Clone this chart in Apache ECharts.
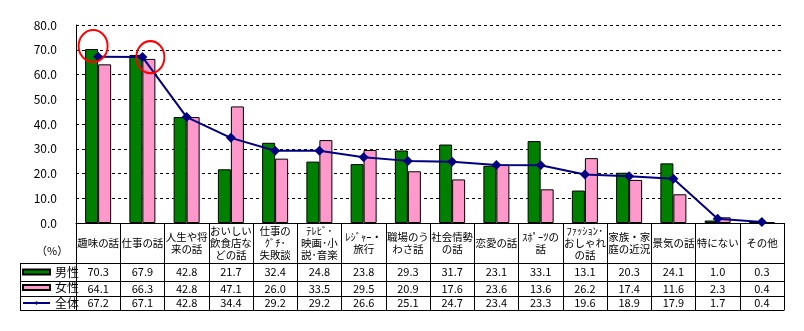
<!DOCTYPE html>
<html><head><meta charset="utf-8">
<script src="https://cdn.jsdelivr.net/npm/echarts@6/dist/echarts.min.js"></script>
<style>html,body{margin:0;padding:0;background:#fff}#c{width:804px;height:331px}</style>
</head><body><div id="c"></div>
<script>
const categories = ['趣味の話','仕事の話','人生や将\n来の話','おいしい\n飲食店な\nどの話','仕事の\nｸﾞﾁ･\n失敗談','ﾃﾚﾋﾞ･\n映画･小\n説･音楽','ﾚｼﾞｬｰ・\n旅行','職場のう\nわさ話','社会情勢\nの話','恋愛の話','ｽﾎﾟｰﾂの\n話','ﾌｧｯｼｮﾝ･\nおしゃれ\nの話','家族・家\n庭の近況','景気の話','特にない','その他'];
const male   = [70.3,67.9,42.8,21.7,32.4,24.8,23.8,29.3,31.7,23.1,33.1,13.1,20.3,24.1,1.0,0.3];
const female = [64.1,66.3,42.8,47.1,26.0,33.5,29.5,20.9,17.6,23.6,13.6,26.2,17.4,11.6,2.3,0.4];
const total  = [67.2,67.1,42.8,34.4,29.2,29.2,26.6,25.1,24.7,23.4,23.3,19.6,18.9,17.9,1.7,0.4];
const seriesNames = ['男性','女性','全体'];
const yTicks = {min:0, max:80, interval:10};
// annotation circles: [category index, value]
const highlightCircles = [[0,71.5],[1,67]];

const FONT = "'Noto Sans CJK JP', sans-serif";
const chart = echarts.init(document.getElementById('c'));
const baseX = {type:'category', data:categories, position:'bottom', gridIndex:0};
function rowAxis(offset, arr, margin){
  return Object.assign({}, baseX, {
    offset: offset,
    axisLine:{show:true, lineStyle:{color:'#000', width:1}},
    axisTick:{show:false},
    axisLabel:{show: !!arr, interval:0, margin:margin, verticalAlign:'middle', fontFamily:FONT, fontSize:11, color:'#000',
      formatter:(v,i)=> arr ? arr[i].toFixed(1) : ''},
    splitLine:{show:false}
  });
}
chart.setOption({
  animation:false,
  textStyle:{fontFamily:FONT},
  grid:{left:76, right:20, top:25, bottom:108, containLabel:false},
  legend:{
    orient:'vertical', left:22, top:266, padding:0, itemWidth:27, itemHeight:5, itemGap:3.5,
    textStyle:{fontSize:12, color:'#000', fontFamily:FONT, lineHeight:12, padding:0},
    data:[{name:'男性', icon:'rect'},{name:'女性', icon:'rect'},{name:'全体'}]
  },
  xAxis:[
    Object.assign({}, baseX, {
      axisLine:{show:true, lineStyle:{color:'#000', width:1}},
      axisTick:{show:true, length:87, alignWithLabel:false, lineStyle:{color:'#000'}},
      axisLabel:{interval:0, margin:20, verticalAlign:'middle', fontFamily:FONT, fontSize:10.5, lineHeight:12, color:'#000'},
      splitLine:{show:false}
    }),
    rowAxis(40, male, 9),
    rowAxis(58, female, 8),
    rowAxis(73, total, 7),
    rowAxis(87, null, 0)
  ],
  yAxis:{
    type:'value', min:yTicks.min, max:yTicks.max, interval:yTicks.interval,
    axisLine:{show:true, lineStyle:{color:'#000', width:1}},
    axisTick:{show:false},
    axisLabel:{margin:19, fontFamily:FONT, fontSize:12, color:'#000', formatter:v=>v.toFixed(1)},
    splitLine:{show:true, lineStyle:{color:'#000', width:1, type:[3,3]}}
  },
  series:[
    {name:seriesNames[0], type:'bar', data:male, barWidth:13, barGap:'0%',
      itemStyle:{color:'#008000', borderColor:'#000', borderWidth:1}},
    {name:seriesNames[1], type:'bar', data:female, barWidth:13, barGap:'0%',
      itemStyle:{color:'#FF99CC', borderColor:'#000', borderWidth:1}},
    {name:seriesNames[2], type:'line', data:total, symbol:'diamond', symbolSize:10,
      lineStyle:{color:'#000080', width:2}, itemStyle:{color:'#000080'},
      markPoint:{
        symbol:'circle', silent:true, label:{show:false},
        itemStyle:{color:'rgba(0,0,0,0)', borderColor:'#FF0000', borderWidth:2},
        data:[
          {coord:highlightCircles[0], symbolSize:[29,32], symbolOffset:[-5,0]},
          {coord:highlightCircles[1], symbolSize:[28,32], symbolOffset:[8,0]}
        ]
      }}
  ],
  graphic:[
    {type:'text', left:36, top:245, style:{text:'（%）', font:"11px 'Noto Sans CJK JP'", fill:'#000'}},
    {type:'line', shape:{x1:20,y1:263.5,x2:76,y2:263.5}, style:{stroke:'#000',lineWidth:1}},
    {type:'line', shape:{x1:20,y1:281.5,x2:76,y2:281.5}, style:{stroke:'#000',lineWidth:1}},
    {type:'line', shape:{x1:20,y1:296.5,x2:76,y2:296.5}, style:{stroke:'#000',lineWidth:1}},
    {type:'line', shape:{x1:20,y1:310.5,x2:76,y2:310.5}, style:{stroke:'#000',lineWidth:1}},
    {type:'line', shape:{x1:20.5,y1:263,x2:20.5,y2:311}, style:{stroke:'#000',lineWidth:1}}
  ]
});
</script></body></html>
